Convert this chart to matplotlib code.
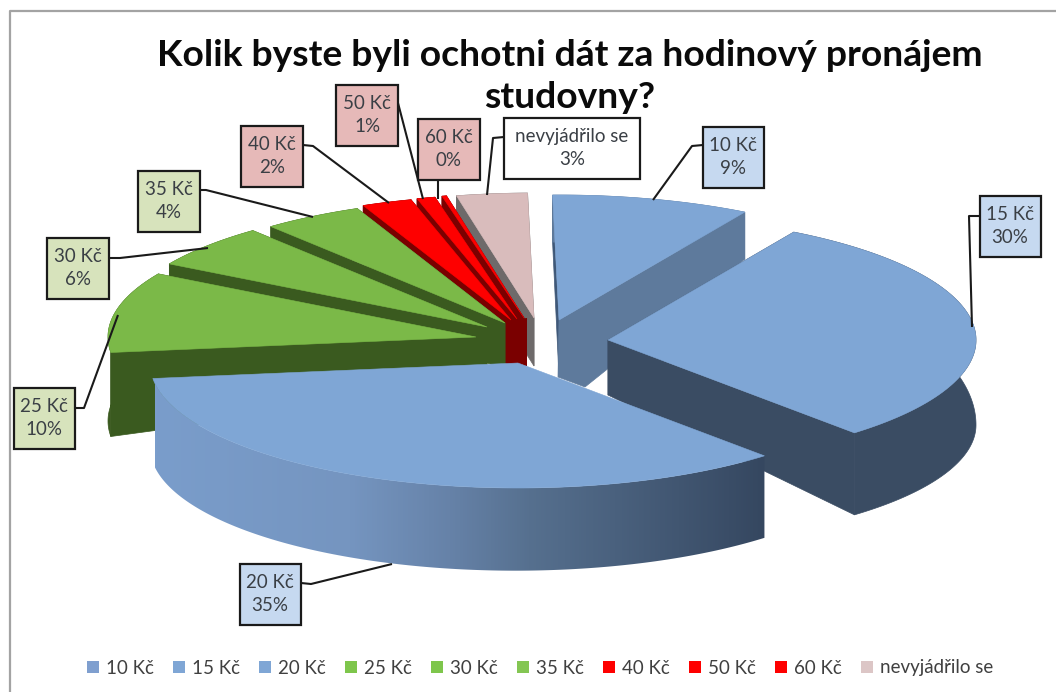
import numpy as np
import matplotlib
matplotlib.use("Agg")
import matplotlib.pyplot as plt
from matplotlib.lines import Line2D
from matplotlib.colors import LinearSegmentedColormap, Normalize
from matplotlib.patches import Polygon

plt.rcParams['font.family'] = ['Lato', 'DejaVu Sans']

# ---- data
categories = ['10 Kč', '15 Kč', '20 Kč', '25 Kč', '30 Kč', '35 Kč', '40 Kč', '50 Kč', '60 Kč', 'nevyjádřilo se']
shares = [8.7, 29.9, 34.7, 10.4, 5.6, 4.4, 2.2, 0.8, 0.2, 3.1]
title_lines = ['Kolik byste byli ochotni dát za hodinový pronájem', 'studovny?']

# ---- styles and layout
top_colors = ['#7fa6d5'] * 3 + ['#7bb948'] * 3 + ['#fe0000'] * 3 + ['#d9bcbc']
legend_colors = ['#7f9fcf', '#7fa6d5', '#7fa6d5', '#7ec64c', '#7ec64c', '#84c653', '#fe0000', '#fe0000', '#fe0000', '#dcc6c6']
wall_colors = ['#5e7a9c', '#3a4c63', '#3a4c63', '#3a5a1f', '#3a5a1f', '#3a5a1f', '#7a0000', '#7a0000', '#7a0000', '#6e6a6a']
box_colors = ['#c6d9f0'] * 3 + ['#d7e3bc'] * 3 + ['#e6b9b8'] * 3 + ['#ffffff']
explode_apex = [(559, 320), (608, 340), (518, 363), (476, 337), (487, 327),
                (505, 323), (511, 320), (517, 319), (524, 318), (534, 318)]
apex_depth = [57, 55, 50, 50, 46, 46, 48, 48, 48, 48]
foot_of_first_slice = [(585, 387), (558, 377)]
box_centers = [(733, 157), (1010, 226), (270, 594), (44, 418), (77.5, 268),
               (168.5, 201), (272, 156), (367, 115), (448.5, 149), (572, 148)]
box_widths = [61, 61, 61, 61, 62, 62, 62, 62, 62, 136]
leaders = [[(703, 145), (692, 146), (653, 200)],
           [(979, 216), (969, 216), (972, 327)],
           [(301, 583), (311, 584), (392, 564)],
           [(75, 408), (84, 408), (118, 315)],
           [(110, 258), (120, 258), (208, 248)],
           [(199, 190), (206, 190), (313, 217)],
           [(303, 145), (313, 146), (389, 203)],
           [(398, 103), (423, 199)],
           [(438, 180), (438, 199)],
           [(504, 137), (493, 138), (487, 195)]]
A, B = 368.0, 125.0
ROT = -1.0
depth_t = [0, 32, 90, 138, 263, 299, 335, 360]
depth_v = [47, 47, 85, 82, 84, 84, 50, 47]
grad_x = [155, 350, 450, 530, 765]
grad_c = ['#7a9dcb', '#7595c0', '#6682a8', '#56708f', '#354760']

fig = plt.figure(figsize=(10.56, 6.92), dpi=100)
ax = fig.add_axes([0, 0, 1, 1])

# frame of the picture
ax.plot([9.5, 9.5, 1056], [692, 10.5, 10.5], color='#a3a3a3', lw=1.6, zorder=1)

grad_cmap = LinearSegmentedColormap.from_list(
    'wall', [((x - grad_x[0]) / (grad_x[-1] - grad_x[0]), c) for x, c in zip(grad_x, grad_c)])


def outer(apex, t):
    t = np.asarray(t, float)
    r = np.radians(t)
    return apex[0] + A * np.sin(r), apex[1] - B * np.cos(r)


def depth(t):
    return np.interp(np.mod(t, 360), depth_t, depth_v)


pct = np.array(shares, float)
edges = ROT + np.concatenate([[0], np.cumsum(pct)]) * 3.6

# back to front
order = [9, 8, 7, 6, 5, 4, 3, 0, 1, 2]
z = 2
for i in order:
    t0, t1 = edges[i], edges[i + 1]
    apex = explode_apex[i]
    ts = np.linspace(t0, t1, max(12, int((t1 - t0) * 3)))
    xs, ys = outer(apex, ts)
    ds = depth(ts)
    wall = wall_colors[i]
    if i == 8:
        # dark core where the three red slices meet
        left, right = explode_apex[6][0] - 4, explode_apex[8][0] + 3
        ax.fill([left, right, right, left], [320, 318, 366, 368], color=wall, lw=0, zorder=z)
        z += 1
    # cut faces: the one further back first (the front slice shows none)
    if i != 2:
        faces = sorted([t0, t1], key=lambda t: np.cos(np.radians(t)), reverse=True)
        for t in faces:
            x, y = outer(apex, t)
            d = float(depth(t))
            col = '#3f5878' if (i == 0 and t == t0) else wall
            px = [apex[0], x, x, apex[0]]
            py = [apex[1], y, y + d, apex[1] + apex_depth[i]]
            if i == 0 and t == t1:
                px = [apex[0], x, x] + [p[0] for p in foot_of_first_slice]
                py = [apex[1], y, y + d] + [p[1] for p in foot_of_first_slice]
            ax.fill(px, py, color=col, lw=0.5, zorder=z)
            z += 1
    # outer wall
    wall_x = np.r_[xs, xs[::-1]]
    wall_y = np.r_[ys, (ys + ds)[::-1]]
    if i == 2:
        poly = Polygon(np.c_[wall_x, wall_y], closed=True, fc='none', ec='none')
        ax.add_patch(poly)
        img = ax.imshow(np.linspace(0, 1, 512)[None, :], cmap=grad_cmap, norm=Normalize(0, 1),
                        extent=(grad_x[0], grad_x[-1], 600, 300), aspect='auto', zorder=z)
        img.set_clip_path(poly)
    else:
        ax.fill(wall_x, wall_y, color=wall, lw=0.5, zorder=z)
    z += 1
    # top surface
    ax.fill(np.r_[apex[0], xs], np.r_[apex[1], ys], color=top_colors[i], lw=0.4, zorder=z)
    z += 1

ax.set_xlim(0, 1056)
ax.set_ylim(692, 0)
ax.axis('off')

# title
for line, y in zip(title_lines, [55, 97]):
    ax.text(570, y, line, ha='center', va='center', fontsize=26.8, fontweight='bold',
            color='#0a0a0a', zorder=z)
z += 1

# callouts
for i, cat in enumerate(categories):
    px, py = zip(*leaders[i])
    ax.plot(px, py, color='#1a1a1a', lw=1.5, zorder=z, solid_capstyle='butt')
    cx, cy = box_centers[i]
    w, h = box_widths[i], 61
    ax.fill([cx - w / 2, cx + w / 2, cx + w / 2, cx - w / 2],
            [cy - h / 2, cy - h / 2, cy + h / 2, cy + h / 2],
            facecolor=box_colors[i], edgecolor='#1a1a1a', lw=1.6, zorder=z + 1)
    ax.text(cx, cy, f'{cat}\n{round(shares[i])}%', ha='center', va='center', fontsize=13.5,
            color='#3a3f45', linespacing=1.45, zorder=z + 2)

# legend
handles = [Line2D([], [], ls='none', marker='s', ms=8.6, mew=0, color=c) for c in legend_colors]
ax.legend(handles, categories, ncol=10, loc='center', bbox_to_anchor=(540, 668),
          bbox_transform=ax.transData, frameon=False, fontsize=13.5, handlelength=0.65,
          handletextpad=0.37, columnspacing=1.02, labelcolor='#404040', borderpad=0)

fig.savefig('out.png', dpi=100)
